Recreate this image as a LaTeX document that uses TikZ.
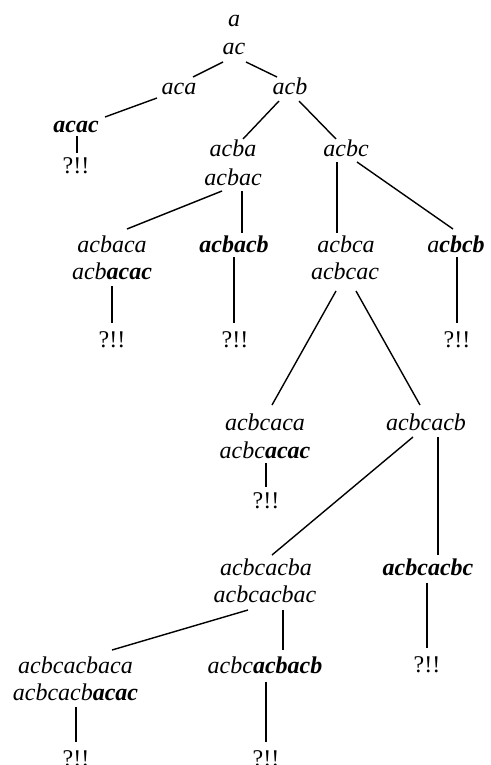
\documentclass[tikz,border=0pt]{standalone}
\usepackage{fontspec}
\setmainfont{Liberation Serif}
\begin{document}
\begin{tikzpicture}[x=1pt,y=-1pt,
  t/.style={font=\fontsize{24}{28}\selectfont\itshape, inner sep=0pt, anchor=base},
  q/.style={font=\fontsize{24}{28}\selectfont, inner sep=0pt, anchor=base},
  e/.style={line width=1.4pt}]
\useasboundingbox (0,0) rectangle (490,765);
\newcommand{\bi}[1]{\textbf{#1}}
% nodes (positioned by baseline)
\node[t] (a) at (234,27) {a};
\node[t] (ac) at (234,55) {ac};
\node[t] (aca) at (179,95) {aca};
\node[t] (acb) at (290,95) {acb};
\node[t] (acac) at (76,132) {\bi{acac}};
\node[q] (q1) at (76,173) {?!!};
\node[t] (acba) at (233,157) {acba};
\node[t] (acbac) at (233,185) {acbac};
\node[t] (acbc) at (346,157) {acbc};
\node[t] (acbaca) at (112,252) {acbaca};
\node[t] (acbacac) at (112,279) {acb\bi{acac}};
\node[t] (acbacb) at (234,252) {\bi{acbacb}};
\node[t] (acbca) at (346,252) {acbca};
\node[t] (acbcac) at (345,279) {acbcac};
\node[t] (acbcb) at (456,252) {a\bi{cbcb}};
\node[q] (q2) at (112,347) {?!!};
\node[q] (q3) at (235,347) {?!!};
\node[q] (q4) at (457,347) {?!!};
\node[t] (acbcaca) at (265,430) {acbcaca};
\node[t] (acbcacac) at (265,458) {acbc\bi{acac}};
\node[t] (acbcacb) at (426,430) {acbcacb};
\node[q] (q5) at (266,508) {?!!};
\node[t] (acbcacba) at (266,575) {acbcacba};
\node[t] (acbcacbac) at (265,602) {acbcacbac};
\node[t] (acbcacbc) at (428,575) {\bi{acbcacbc}};
\node[q] (q6) at (427,672) {?!!};
\node[t] (acbcacbaca) at (75.5,673) {acbcacbaca};
\node[t] (acbcacbacac) at (75.5,700) {acbcacb\bi{acac}};
\node[t] (acbcacbacb) at (265,673) {acbc\bi{acbacb}};
\node[q] (q7) at (76,766) {?!!};
\node[q] (q8) at (266,766) {?!!};
% connectors
\draw[e] ([shift={(-11,7)}]ac.base) -- ([shift={(14,-18)}]aca.base);
\draw[e] ([shift={(12,7)}]ac.base) -- ([shift={(-13,-18)}]acb.base);
\draw[e] ([shift={(-22,3)}]aca.base) -- ([shift={(29,-15)}]acac.base);
\draw[e] ([shift={(1,4)}]acac.base) -- ([shift={(1,-20)}]q1.base);
\draw[e] ([shift={(-11,6)}]acb.base) -- ([shift={(10,-18)}]acba.base);
\draw[e] ([shift={(9,6)}]acb.base) -- ([shift={(-10,-18)}]acbc.base);
\draw[e] ([shift={(-11,6)}]acbac.base) -- ([shift={(15,-23)}]acbaca.base);
\draw[e] ([shift={(9,6)}]acbac.base) -- ([shift={(8,-19)}]acbacb.base);
\draw[e] ([shift={(0,7)}]acbacac.base) -- ([shift={(0,-24)}]q2.base);
\draw[e] ([shift={(0,5)}]acbacb.base) -- ([shift={(-1,-24)}]q3.base);
\draw[e] ([shift={(-9,5)}]acbc.base) -- ([shift={(-9,-19)}]acbca.base);
\draw[e] ([shift={(11,5)}]acbc.base) -- ([shift={(-3,-23)}]acbcb.base);
\draw[e] ([shift={(1,5)}]acbcb.base) -- ([shift={(0,-24)}]q4.base);
\draw[e] ([shift={(-9,12)}]acbcac.base) -- ([shift={(7,-25)}]acbcaca.base);
\draw[e] ([shift={(11,12)}]acbcac.base) -- ([shift={(-6,-25)}]acbcacb.base);
\draw[e] ([shift={(1,5)}]acbcacac.base) -- ([shift={(0,-21)}]q5.base);
\draw[e] ([shift={(-13,7)}]acbcacb.base) -- ([shift={(6,-20)}]acbcacba.base);
\draw[e] ([shift={(12,7)}]acbcacb.base) -- ([shift={(10,-20)}]acbcacbc.base);
\draw[e] ([shift={(-1,8)}]acbcacbc.base) -- ([shift={(0,-24)}]q6.base);
\draw[e] ([shift={(-17,8)}]acbcacbac.base) -- ([shift={(36.5,-23)}]acbcacbaca.base);
\draw[e] ([shift={(18,8)}]acbcacbac.base) -- ([shift={(18,-23)}]acbcacbacb.base);
\draw[e] ([shift={(0.5,7)}]acbcacbacac.base) -- ([shift={(0,-24)}]q7.base);
\draw[e] ([shift={(1,9)}]acbcacbacb.base) -- ([shift={(0,-24)}]q8.base);
\end{tikzpicture}
\end{document}
